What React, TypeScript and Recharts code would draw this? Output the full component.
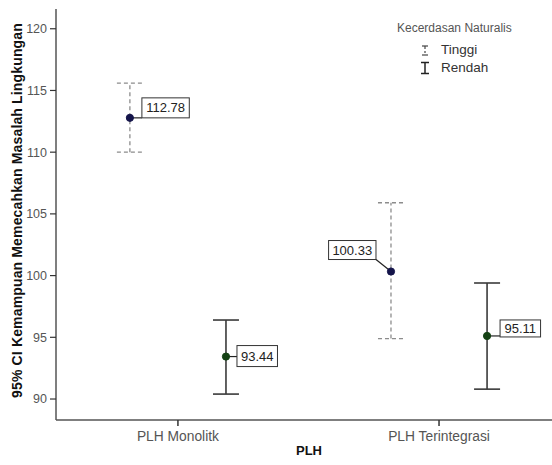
import React from 'react';
import { ScatterChart, Scatter, XAxis, YAxis, ErrorBar } from 'recharts';

// ---- data ----
const categories = ['PLH Monolitk', 'PLH Terintegrasi'];
const seriesNames = ['Tinggi', 'Rendah'];
const tinggiMean = [112.78, 100.33];
const tinggiLower = [110.0, 94.9];
const tinggiUpper = [115.6, 105.9];
const rendahMean = [93.44, 95.11];
const rendahLower = [90.4, 90.8];
const rendahUpper = [96.4, 99.4];
const yTicks = [90, 95, 100, 105, 110, 115, 120];
const xTicks = [0, 1];

// ---- layout / style ----
const FONT = '"Liberation Sans", Arial, Helvetica, sans-serif';
const SERIES_OFFSET = 0.184;
const TINGGI_COLOR = '#14144a';
const RENDAH_COLOR = '#144214';
const TINGGI_BAR = '#8c8c8c';
const RENDAH_BAR = '#3a3a3a';
const AXIS_COLOR = '#555555';

type Place = { side: 'right' | 'left'; dx: number; dy: number; h: number };
const tinggiLabelPlace: Place[] = [
  { side: 'right', dx: 12, dy: -20, h: 20 },
  { side: 'left', dx: 15, dy: -31, h: 19 },
];
const rendahLabelPlace: Place[] = [
  { side: 'right', dx: 11, dy: -11, h: 21 },
  { side: 'right', dx: 13, dy: -16, h: 17 },
];

const build = (means: number[], lo: number[], hi: number[], offset: number, places: Place[]) =>
  means.map((m, i) => ({
    x: i + offset,
    y: m,
    err: [m - lo[i], hi[i] - m],
    label: m.toFixed(2),
    place: places[i],
  }));

const tinggiData = build(tinggiMean, tinggiLower, tinggiUpper, -SERIES_OFFSET, tinggiLabelPlace);
const rendahData = build(rendahMean, rendahLower, rendahUpper, SERIES_OFFSET, rendahLabelPlace);

const clamp = (v: number, a: number, b: number) => Math.max(a, Math.min(b, v));

const makeShape = (color: string) => (props: any) => {
  const { cx, cy, payload } = props;
  if (cx == null || cy == null) return <g />;
  const p: Place = payload.place;
  const text: string = payload.label;
  const w = 6 + text.length * 6.9;
  const bx = p.side === 'right' ? cx + p.dx : cx - p.dx - w;
  const by = cy + p.dy;
  const lx = clamp(cx, bx, bx + w);
  const ly = clamp(cy, by, by + p.h);
  return (
    <g>
      <line x1={cx} y1={cy} x2={lx} y2={ly} stroke="#222" strokeWidth={1.2} />
      <rect x={bx} y={by} width={w} height={p.h} fill="#fff" stroke="#333" strokeWidth={1} />
      <text
        x={bx + w / 2}
        y={by + p.h / 2}
        textAnchor="middle"
        dominantBaseline="central"
        fontSize={13}
        fontFamily={FONT}
        fill="#222"
      >
        {text}
      </text>
      <circle cx={cx} cy={cy} r={3.6} fill={color} stroke={color} />
    </g>
  );
};

const LegendIcon = ({ dashed }: { dashed: boolean }) => (
  <svg width={12} height={14} style={{ display: 'block' }}>
    {dashed ? (
      <g stroke="#444" strokeWidth={1.2}>
        <line x1={3} y1={3} x2={9} y2={3} />
        <line x1={6} y1={3} x2={6} y2={6} />
        <line x1={6} y1={8} x2={6} y2={10} />
        <line x1={3} y1={12} x2={9} y2={12} />
      </g>
    ) : (
      <g stroke="#222" strokeWidth={1.5}>
        <line x1={2} y1={1.5} x2={10} y2={1.5} />
        <line x1={6} y1={1.5} x2={6} y2={12.5} />
        <line x1={2} y1={12.5} x2={10} y2={12.5} />
      </g>
    )}
  </svg>
);

export default function App() {
  return (
    <div
      style={{
        position: 'absolute',
        left: 0,
        top: 0,
        width: 552,
        height: 465,
        overflow: 'hidden',
        background: '#fff',
        fontFamily: FONT,
      }}
    >
      <ScatterChart width={562} height={465} margin={{ top: 9, right: 0, bottom: 15, left: 0 }}>
        <XAxis
          xAxisId="top"
          orientation="top"
          type="number"
          dataKey="x"
          domain={[0, 1]}
          height={0}
          tick={false}
          tickLine={false}
          axisLine={{ stroke: AXIS_COLOR, strokeWidth: 1.5 }}
        />
        <XAxis
          type="number"
          dataKey="x"
          domain={[-0.467, 1.471]}
          allowDataOverflow
          ticks={xTicks}
          interval={0}
          height={30}
          tickFormatter={(v: number) => categories[Math.round(v)] ?? ''}
          tick={{ fill: '#555', fontSize: 13.8, fontFamily: FONT }}
          tickSize={6}
          tickMargin={5}
          axisLine={{ stroke: AXIS_COLOR, strokeWidth: 1.5 }}
          tickLine={{ stroke: '#333', strokeWidth: 1.5 }}
          label={{
            content: (props: any) => {
              const vb = props.viewBox || {};
              return (
                <text
                  x={vb.x + vb.width / 2}
                  y={vb.y + 30}
                  textAnchor="middle"
                  dominantBaseline="central"
                  fontSize={13}
                  fontWeight="bold"
                  fontFamily={FONT}
                  fill="#111"
                >
                  PLH
                </text>
              );
            },
          }}
        />
        <YAxis
          type="number"
          dataKey="y"
          domain={[88.3, 121.6]}
          allowDataOverflow
          ticks={yTicks}
          interval={0}
          width={56}
          tick={{ fill: '#555', fontSize: 12.5, fontFamily: FONT }}
          tickSize={6}
          tickMargin={3}
          axisLine={{ stroke: AXIS_COLOR, strokeWidth: 1.5 }}
          tickLine={{ stroke: '#333', strokeWidth: 1.2 }}
          label={{
            content: (props: any) => {
              const vb = props.viewBox || {};
              const cx = 17;
              const cy = vb.y + vb.height / 2 - 4;
              return (
                <text
                  x={cx}
                  y={cy}
                  transform={`rotate(-90 ${cx} ${cy})`}
                  textAnchor="middle"
                  dominantBaseline="central"
                  fontSize={14}
                  letterSpacing={0.15}
                  fontWeight="bold"
                  fontFamily={FONT}
                  fill="#111"
                >
                  95% CI Kemampuan Memecahkan Masalah Lingkungan
                </text>
              );
            },
          }}
        />
        <Scatter
          name={seriesNames[0]}
          data={tinggiData}
          dataKey="y"
          isAnimationActive={false}
          shape={makeShape(TINGGI_COLOR)}
        >
          <ErrorBar
            dataKey="err"
            direction="y"
            width={13}
            stroke={TINGGI_BAR}
            strokeWidth={1.3}
            strokeDasharray="4 3"
            isAnimationActive={false}
          />
        </Scatter>
        <Scatter
          name={seriesNames[1]}
          data={rendahData}
          dataKey="y"
          isAnimationActive={false}
          shape={makeShape(RENDAH_COLOR)}
        >
          <ErrorBar
            dataKey="err"
            direction="y"
            width={13}
            stroke={RENDAH_BAR}
            strokeWidth={1.6}
            isAnimationActive={false}
          />
        </Scatter>
      </ScatterChart>

      <div
        style={{
          position: 'absolute',
          left: 397,
          top: 20,
          width: 125,
          fontSize: 12,
          color: '#555',
          lineHeight: '16px',
        }}
      >
        <div style={{ whiteSpace: 'nowrap' }}>Kecerdasan Naturalis</div>
        {seriesNames.map((name, i) => (
          <div
            key={name}
            style={{
              display: 'flex',
              alignItems: 'center',
              marginTop: i === 0 ? 6 : 2,
              marginLeft: 22,
              height: 16,
              fontSize: 13.5,
              color: '#333',
            }}
          >
            <LegendIcon dashed={i === 0} />
            <span style={{ marginLeft: 10 }}>{name}</span>
          </div>
        ))}
      </div>
    </div>
  );
}
